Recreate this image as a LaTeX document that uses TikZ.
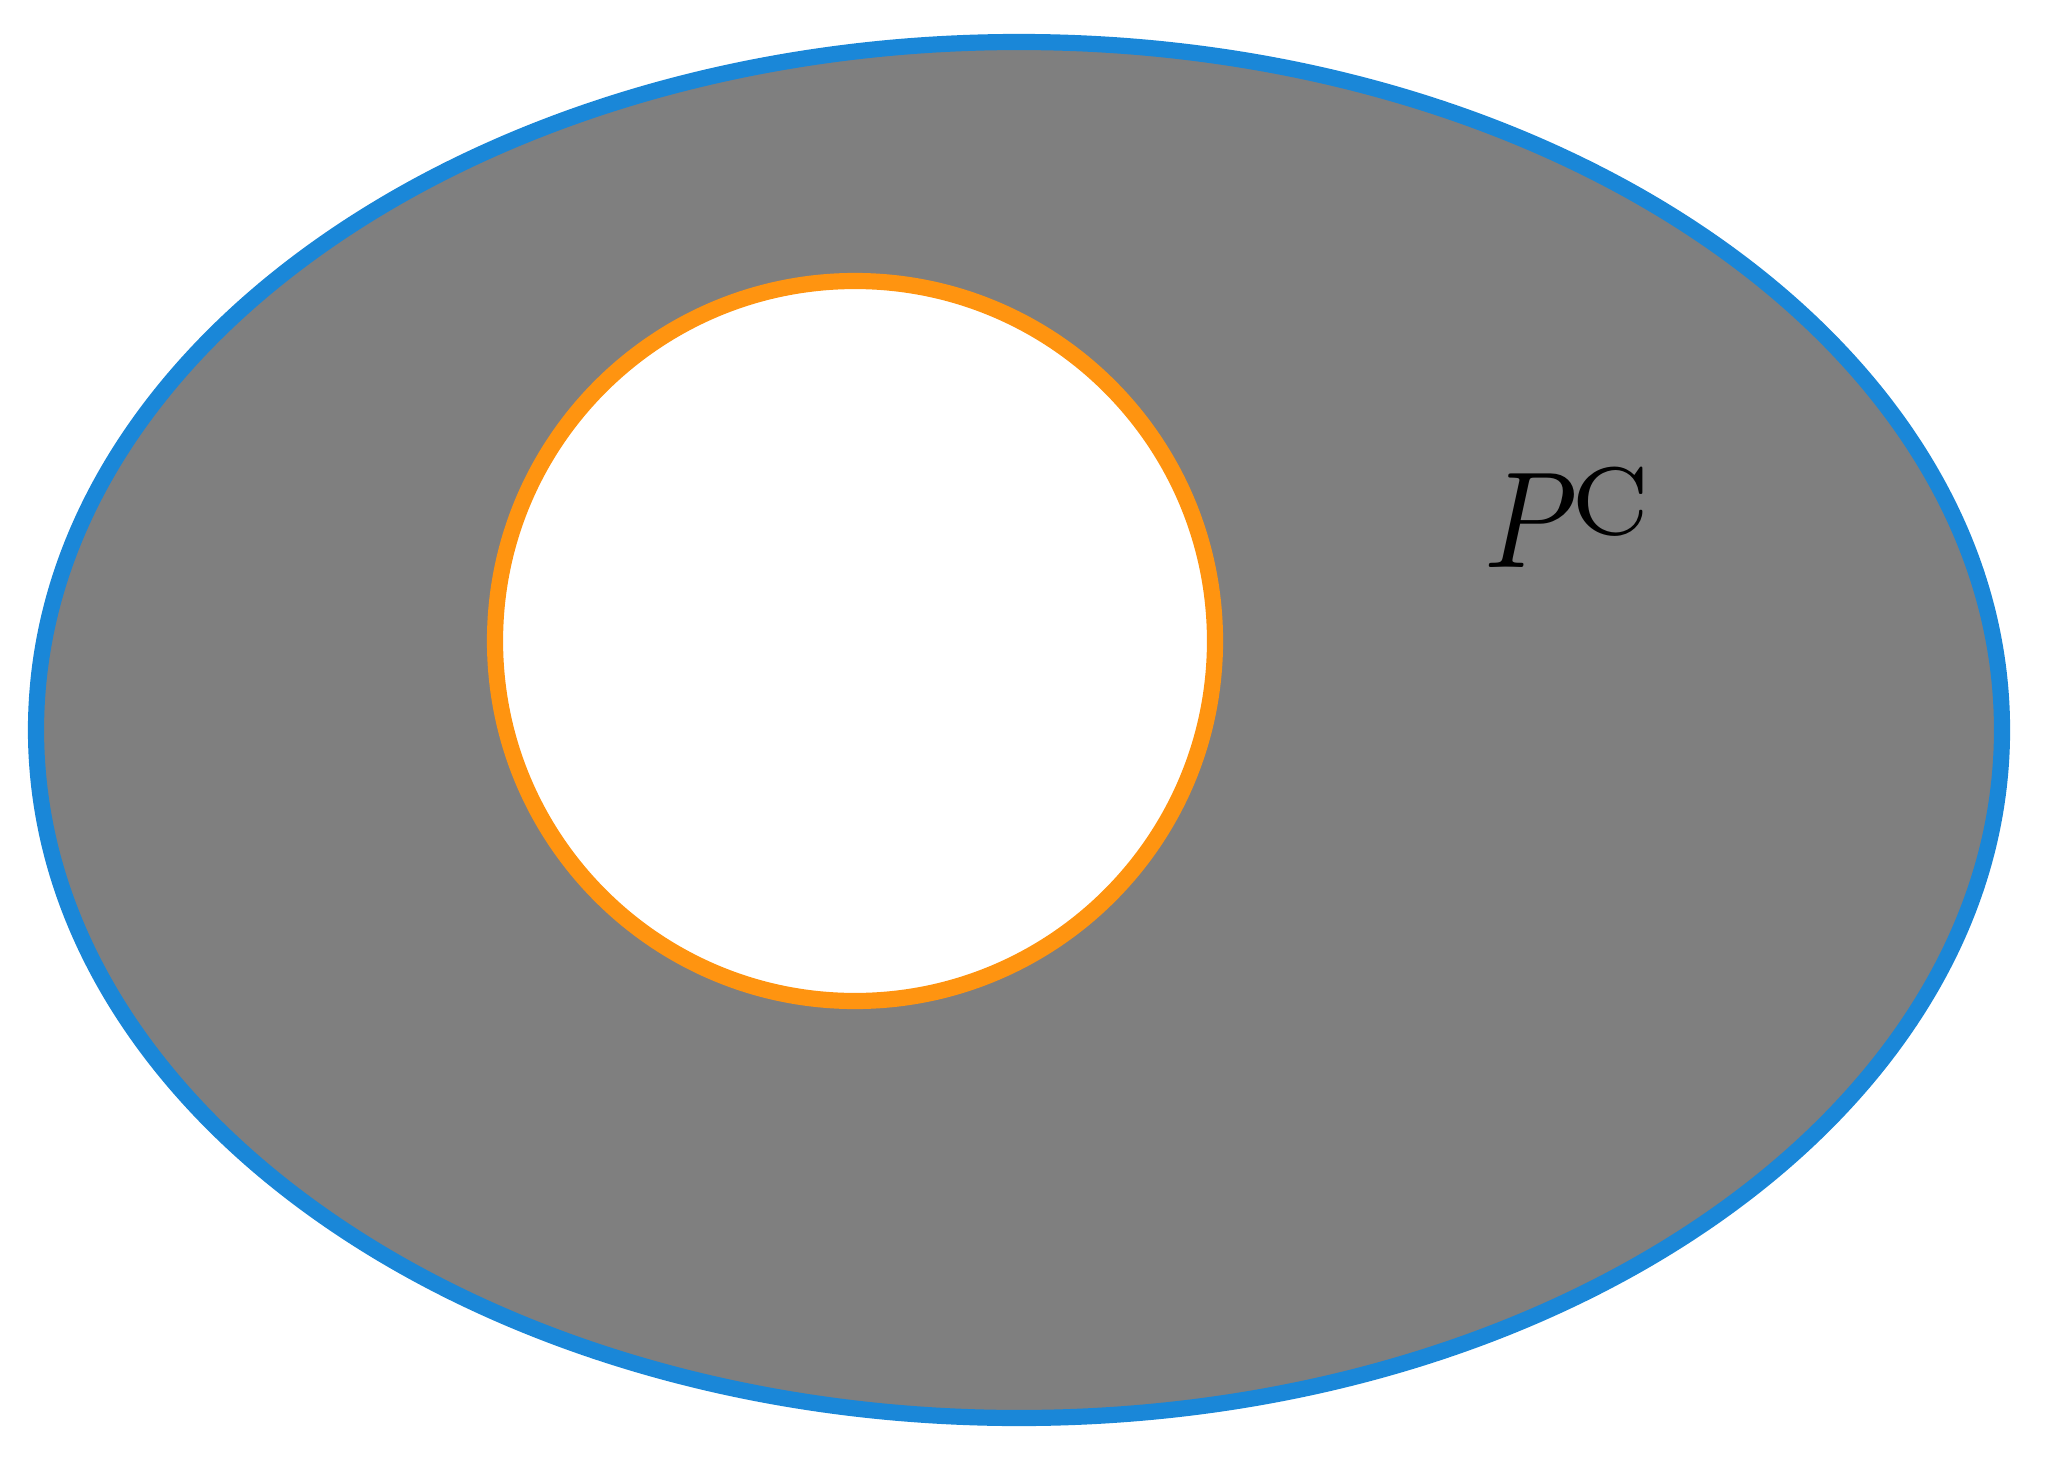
\documentclass[tikz,border=0pt]{standalone}
\usepackage{amsmath,amssymb}
\usepackage{graphicx}
\usepackage{xcolor}
\definecolor{setblue}{HTML}{1A87D8}
\definecolor{setorange}{HTML}{FF9410}
\definecolor{setgray}{HTML}{7F7F7F}
\begin{document}
\begin{tikzpicture}[
 universe/.style={draw=setblue,fill=setgray,line width=4.6pt},
 subset/.style={draw=setorange,fill=white,line width=4.6pt}]
\useasboundingbox (0,0) rectangle (20.5,14.71);
% Complement region: outer set with the event P cut out.
\path[universe] (10.19,7.41) ellipse [x radius=9.83cm,y radius=6.88cm];
\path[subset] (8.55,8.30) circle (3.60cm);
\node[anchor=base west,inner sep=0pt,scale=3.9] (compl) at (14.82,9.04)
  {$\scalebox{0.87}[1]{$P$}^{\kern-0.5pt\raisebox{-2pt}{$\scriptstyle\mathrm{C}$}}$};
\end{tikzpicture}
\end{document}
